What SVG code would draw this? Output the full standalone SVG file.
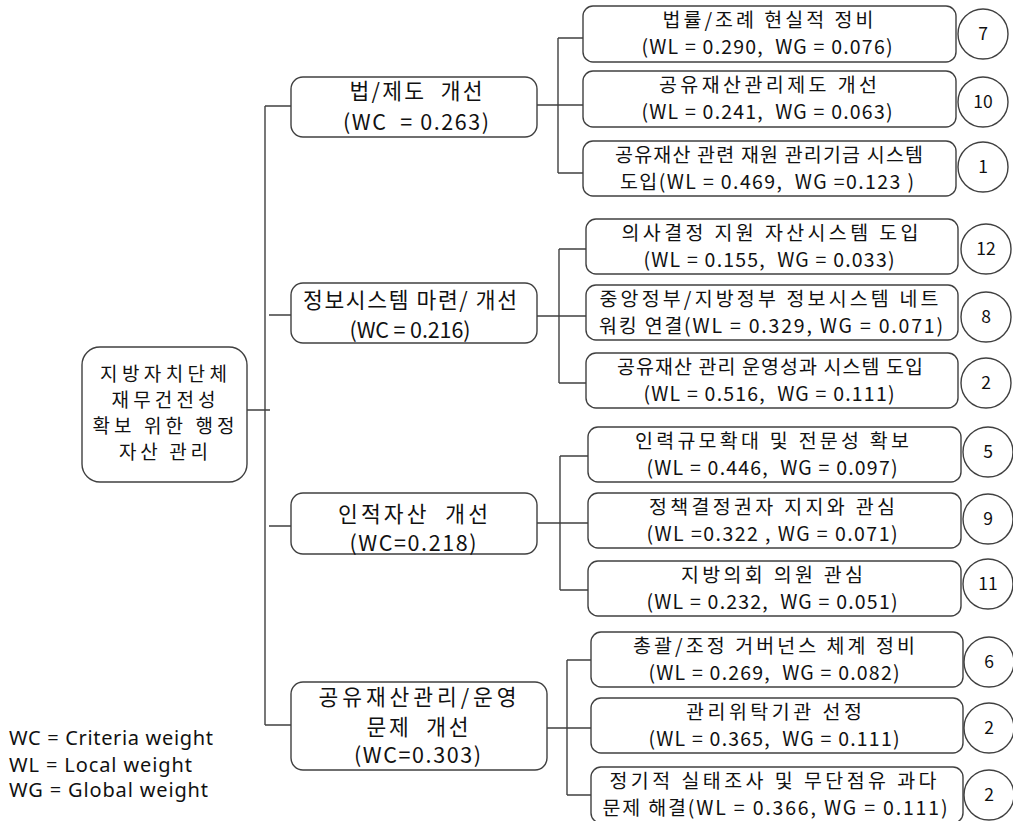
<svg xmlns="http://www.w3.org/2000/svg" width="1013" height="821" viewBox="0 0 1013 821">
<style>
text{font-family:"Noto Sans CJK KR","Malgun Gothic",sans-serif;fill:#111;white-space:pre;}
.box{fill:#fff;stroke:#404040;stroke-width:1.4;}
.circ{fill:#fff;stroke:#404040;stroke-width:1.4;}
.ln{fill:none;stroke:#404040;stroke-width:1.4;}
.root{font-size:19px;text-anchor:middle;}
.mid{font-size:21.5px;text-anchor:middle;}
.leaf{font-size:19.5px;text-anchor:middle;}
.num{font-size:17.5px;text-anchor:middle;}
.leg{font-size:20px;font-family:"Noto Sans",sans-serif;}
</style>
<rect width="1013" height="821" fill="#fff"/>
<g id="connectors">
<path class="ln" d="M247 410H270M265 106V725M265 106H291M269 315H291M269 526H291M265 725H293"/>
<path class="ln" d="M537 105H583M558 38V173M558 38H583M558 173H584"/>
<path class="ln" d="M537 316H586M559 249V383M559 249H586M559 383H586"/>
<path class="ln" d="M537 523H588M560 456V590M560 456H588M560 590H588"/>
<path class="ln" d="M547 728H591M567 660V795M567 660H591M567 795H591"/>
</g>
<g id="root">
<rect class="box" x="82" y="347" width="165" height="135" rx="18"/>
<text class="root" x="163.500" y="381" textLength="127">지방자치단체</text>
<text class="root" x="163.500" y="407" textLength="104">재무건전성</text>
<text class="root" x="163.500" y="433" textLength="142">확보 위한 행정</text>
<text class="root" x="163.500" y="459" textLength="89">자산 관리</text>
</g>
<g id="c1">
<rect class="box" x="291" y="77" width="246" height="60" rx="12"/>
<text class="mid" x="416" y="99" textLength="133">법/제도  개선</text>
<text class="mid" x="416" y="130" textLength="146">(WC  = 0.263)</text>
</g>
<g id="c2">
<rect class="box" x="291" y="283" width="246" height="60" rx="12"/>
<text class="mid" x="410" y="308" textLength="214">정보시스템 마련/ 개선</text>
<text class="mid" x="410" y="338" textLength="121">(WC = 0.216)</text>
</g>
<g id="c3">
<rect class="box" x="291" y="493" width="246" height="61" rx="12"/>
<text class="mid" x="413" y="522" textLength="150">인적자산  개선</text>
<text class="mid" x="413" y="551" textLength="127">(WC=0.218)</text>
</g>
<g id="c4">
<rect class="box" x="291" y="682" width="256" height="88" rx="12"/>
<text class="mid" x="417.500" y="705" textLength="198">공유재산관리/운영</text>
<text class="mid" x="417.500" y="735" textLength="102">문제  개선</text>
<text class="mid" x="417.500" y="763" textLength="127">(WC=0.303)</text>
</g>
<g id="a1">
<rect class="box" x="583" y="6" width="373" height="56" rx="10"/>
<text class="leaf" x="768" y="27" textLength="211">법률/조례 현실적 정비</text>
<text class="leaf" x="767" y="54" textLength="251">(WL = 0.290,  WG = 0.076)</text>
<circle class="circ" cx="983" cy="34" r="25"/>
<text class="num" x="983" y="40">7</text>
</g>
<g id="a2">
<rect class="box" x="583" y="71" width="373" height="56" rx="10"/>
<text class="leaf" x="768" y="92" textLength="218">공유재산관리제도 개선</text>
<text class="leaf" x="767" y="119" textLength="251">(WL = 0.241,  WG = 0.063)</text>
<circle class="circ" cx="983" cy="102" r="25"/>
<text class="num" x="983" y="108">10</text>
</g>
<g id="a3">
<rect class="box" x="583" y="141" width="373" height="55" rx="10"/>
<text class="leaf" x="769" y="162" textLength="308">공유재산 관련 재원 관리기금 시스템</text>
<text class="leaf" x="767" y="189" textLength="294">도입(WL = 0.469,  WG =0.123 )</text>
<circle class="circ" cx="983" cy="167" r="25"/>
<text class="num" x="983" y="173">1</text>
</g>
<g id="b1">
<rect class="box" x="586" y="219" width="372" height="55" rx="10"/>
<text class="leaf" x="770" y="240" textLength="297">의사결정 지원 자산시스템 도입</text>
<text class="leaf" x="769" y="267" textLength="251">(WL = 0.155,  WG = 0.033)</text>
<circle class="circ" cx="986" cy="249" r="25"/>
<text class="num" x="986" y="255">12</text>
</g>
<g id="b2">
<rect class="box" x="586" y="285" width="372" height="55" rx="10"/>
<text class="leaf" x="769" y="306" textLength="339">중앙정부/지방정부 정보시스템 네트</text>
<text class="leaf" x="771" y="333" textLength="344">워킹 연결(WL = 0.329, WG = 0.071)</text>
<circle class="circ" cx="986" cy="317" r="25"/>
<text class="num" x="986" y="323">8</text>
</g>
<g id="b3">
<rect class="box" x="586" y="353" width="372" height="55" rx="10"/>
<text class="leaf" x="770" y="374" textLength="306">공유재산 관리 운영성과 시스템 도입</text>
<text class="leaf" x="769" y="401" textLength="251">(WL = 0.516,  WG = 0.111)</text>
<circle class="circ" cx="986" cy="383" r="25"/>
<text class="num" x="986" y="389">2</text>
</g>
<g id="d1">
<rect class="box" x="588" y="427" width="373" height="55" rx="10"/>
<text class="leaf" x="772" y="448" textLength="274">인력규모확대 및 전문성 확보</text>
<text class="leaf" x="772" y="475" textLength="251">(WL = 0.446,  WG = 0.097)</text>
<circle class="circ" cx="988" cy="452" r="25"/>
<text class="num" x="988" y="458">5</text>
</g>
<g id="d2">
<rect class="box" x="588" y="493" width="373" height="55" rx="10"/>
<text class="leaf" x="772" y="514" textLength="246">정책결정권자 지지와 관심</text>
<text class="leaf" x="772" y="541" textLength="251">(WL =0.322 , WG = 0.071)</text>
<circle class="circ" cx="988" cy="519" r="25"/>
<text class="num" x="988" y="525">9</text>
</g>
<g id="d3">
<rect class="box" x="588" y="561" width="373" height="55" rx="10"/>
<text class="leaf" x="772" y="582" textLength="182">지방의회 의원 관심</text>
<text class="leaf" x="772" y="609" textLength="251">(WL = 0.232,  WG = 0.051)</text>
<circle class="circ" cx="988" cy="584" r="25"/>
<text class="num" x="988" y="590">11</text>
</g>
<g id="e1">
<rect class="box" x="591" y="632" width="372" height="55" rx="10"/>
<text class="leaf" x="774" y="653" textLength="282">총괄/조정 거버넌스 체계 정비</text>
<text class="leaf" x="774" y="680" textLength="251">(WL = 0.269,  WG = 0.082)</text>
<circle class="circ" cx="989" cy="662" r="25"/>
<text class="num" x="989" y="668">6</text>
</g>
<g id="e2">
<rect class="box" x="591" y="698" width="372" height="55" rx="10"/>
<text class="leaf" x="774" y="719" textLength="176">관리위탁기관 선정</text>
<text class="leaf" x="774" y="746" textLength="251">(WL = 0.365,  WG = 0.111)</text>
<circle class="circ" cx="989" cy="728" r="25"/>
<text class="num" x="989" y="734">2</text>
</g>
<g id="e3">
<rect class="box" x="591" y="767" width="372" height="56" rx="10"/>
<text class="leaf" x="773" y="788" textLength="327">정기적 실태조사 및 무단점유 과다</text>
<text class="leaf" x="775" y="815" textLength="345">문제 해결(WL = 0.366, WG = 0.111)</text>
<circle class="circ" cx="989" cy="795" r="25"/>
<text class="num" x="989" y="801">2</text>
</g>
<g id="legend">
<text class="leg" x="9" y="745" textLength="204">WC = Criteria weight</text>
<text class="leg" x="9" y="772" textLength="183">WL = Local weight</text>
<text class="leg" x="9" y="797" textLength="199">WG = Global weight</text>
</g>
</svg>
